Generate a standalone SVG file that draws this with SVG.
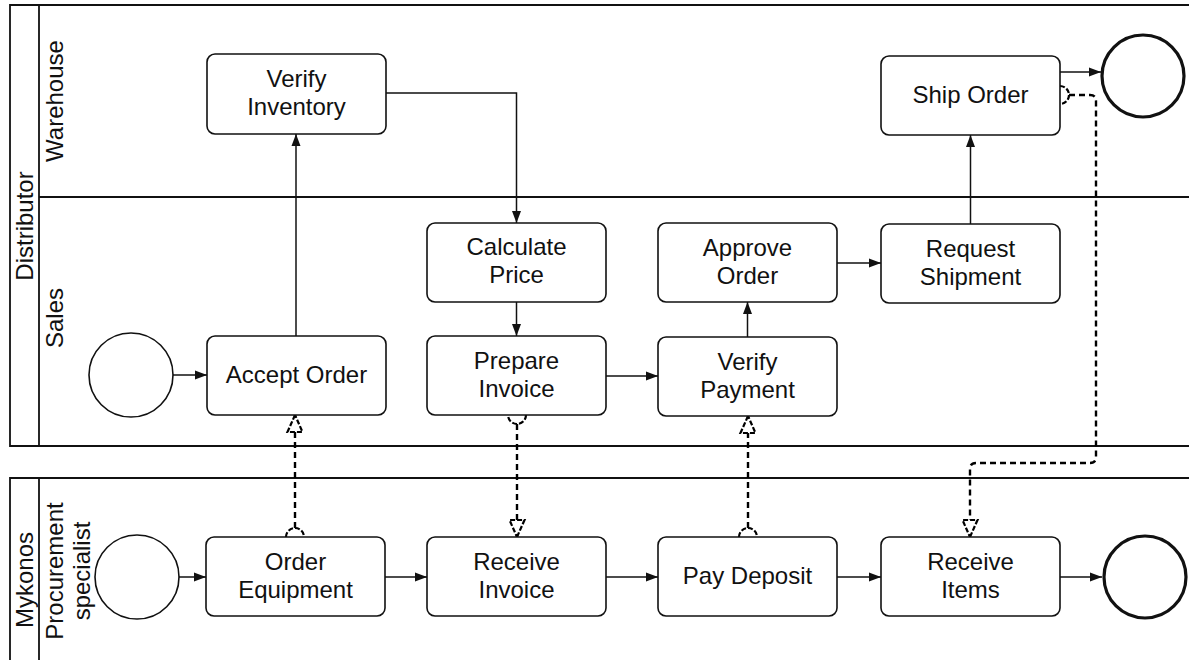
<svg xmlns="http://www.w3.org/2000/svg" width="1189" height="660" viewBox="0 0 1189 660">
<style>
  text { font-family: "Liberation Sans", Arial, Helvetica, sans-serif; font-size: 24px; fill: #111; }
  .lbl { text-anchor: middle; }
  .pool { fill: none; stroke: #111; stroke-width: 1.8; }
  .task rect { fill: #fff; stroke: #111; stroke-width: 1.6; }
  .start { fill: #fff; stroke: #111; stroke-width: 1.6; }
  .end { fill: #fff; stroke: #111; stroke-width: 3.2; }
  .seq { fill: none; stroke: #111; stroke-width: 1.5; marker-end: url(#arr); }
  .msg { fill: none; stroke: #000; stroke-width: 2.4; stroke-dasharray: 6 4; marker-start: url(#msgStart); marker-end: url(#msgEnd); }
</style>
<defs>
  <marker id="arr" markerUnits="userSpaceOnUse" markerWidth="14" markerHeight="10" viewBox="-13 -5 14 10" refX="0" refY="0" orient="auto">
    <path d="M0,0 L-12,-4.5 L-12,4.5 Z" fill="#111"/>
  </marker>
  <marker id="msgEnd" markerUnits="userSpaceOnUse" markerWidth="22" markerHeight="22" viewBox="-20 -11 22 22" refX="0" refY="0" orient="auto" overflow="visible">
    <path d="M0,0 L-17,-7.5 L-17,7.5 Z" fill="#fff" stroke="#000" stroke-width="2.2" stroke-dasharray="5 2"/>
  </marker>
  <marker id="msgStart" markerUnits="userSpaceOnUse" markerWidth="22" markerHeight="22" viewBox="-11 -11 22 22" refX="0" refY="0" orient="auto" overflow="visible">
    <path d="M-9,-9 A9,9 0 0 1 -9,9" fill="none" stroke="#000" stroke-width="2.2" stroke-dasharray="5 2"/>
  </marker>
</defs>

<g id="pools">
  <path class="pool" d="M1189,5 H10 V446 H1189"/>
  <line class="pool" x1="39" y1="5" x2="39" y2="446"/>
  <line class="pool" x1="39" y1="197" x2="1189" y2="197"/>
  <path class="pool" d="M1189,478 H10 V660"/>
  <line class="pool" x1="39" y1="478" x2="39" y2="660"/>
  <text class="lbl" transform="translate(33,226) rotate(-90)">Distributor</text>
  <text class="lbl" transform="translate(63,101) rotate(-90)">Warehouse</text>
  <text class="lbl" transform="translate(63,318) rotate(-90)">Sales</text>
  <text class="lbl" transform="translate(33,580) rotate(-90)">Mykonos</text>
  <text class="lbl" transform="translate(63,571) rotate(-90)">Procurement</text>
  <text class="lbl" transform="translate(90,571) rotate(-90)">specialist</text>
</g>

<g id="connectors">
  <path class="seq" d="M173,375 H207"/>
  <path class="seq" d="M296,336 V134"/>
  <path class="seq" d="M386,93 H516.5 V223"/>
  <path class="seq" d="M516.5,302 V336"/>
  <path class="seq" d="M606,376 H658"/>
  <path class="seq" d="M747.5,337 V302"/>
  <path class="seq" d="M837,263 H881"/>
  <path class="seq" d="M970.5,224 V135"/>
  <path class="seq" d="M1060,72 H1101"/>
  <path class="seq" d="M179,577 H206"/>
  <path class="seq" d="M385,577 H427"/>
  <path class="seq" d="M606,577 H658"/>
  <path class="seq" d="M837,577 H881"/>
  <path class="seq" d="M1060,577 H1102"/>
  <path class="msg" d="M295,528 V415"/>
  <path class="msg" d="M517,424 V537"/>
  <path class="msg" d="M748,528 V416"/>
  <path class="msg" d="M1069,95 H1090 Q1096,95 1096,101 V457 Q1096,463 1090,463 H976 Q970,463 970,469 V537"/>
</g>

<g id="start-sales"><circle class="start" cx="131" cy="375" r="42"/></g>
<g id="start-mykonos"><circle class="start" cx="137" cy="577" r="42"/></g>
<g id="end-warehouse"><circle class="end" cx="1143" cy="76" r="41"/></g>
<g id="end-mykonos"><circle class="end" cx="1145" cy="577" r="41"/></g>

<g id="verify-inventory" class="task"><rect x="207" y="54" width="179" height="80" rx="8"/><text class="lbl" x="296.5" y="87">Verify</text><text class="lbl" x="296.5" y="115">Inventory</text></g>
<g id="ship-order" class="task"><rect x="881" y="56" width="179" height="79" rx="8"/><text class="lbl" x="970.5" y="103">Ship Order</text></g>
<g id="calculate-price" class="task"><rect x="427" y="223" width="179" height="79" rx="8"/><text class="lbl" x="516.5" y="255">Calculate</text><text class="lbl" x="516.5" y="283">Price</text></g>
<g id="approve-order" class="task"><rect x="658" y="223" width="179" height="79" rx="8"/><text class="lbl" x="747.5" y="256">Approve</text><text class="lbl" x="747.5" y="284">Order</text></g>
<g id="request-shipment" class="task"><rect x="881" y="224" width="179" height="79" rx="8"/><text class="lbl" x="970.5" y="257">Request</text><text class="lbl" x="970.5" y="285">Shipment</text></g>
<g id="accept-order" class="task"><rect x="207" y="336" width="179" height="79" rx="8"/><text class="lbl" x="296.5" y="383">Accept Order</text></g>
<g id="prepare-invoice" class="task"><rect x="427" y="336" width="179" height="79" rx="8"/><text class="lbl" x="516.5" y="369">Prepare</text><text class="lbl" x="516.5" y="397">Invoice</text></g>
<g id="verify-payment" class="task"><rect x="658" y="337" width="179" height="79" rx="8"/><text class="lbl" x="747.5" y="370">Verify</text><text class="lbl" x="747.5" y="398">Payment</text></g>
<g id="order-equipment" class="task"><rect x="206" y="537" width="179" height="79" rx="8"/><text class="lbl" x="295.5" y="570">Order</text><text class="lbl" x="295.5" y="598">Equipment</text></g>
<g id="receive-invoice" class="task"><rect x="427" y="537" width="179" height="79" rx="8"/><text class="lbl" x="516.5" y="570">Receive</text><text class="lbl" x="516.5" y="598">Invoice</text></g>
<g id="pay-deposit" class="task"><rect x="658" y="537" width="179" height="79" rx="8"/><text class="lbl" x="747.5" y="584">Pay Deposit</text></g>
<g id="receive-items" class="task"><rect x="881" y="537" width="179" height="79" rx="8"/><text class="lbl" x="970.5" y="570">Receive</text><text class="lbl" x="970.5" y="598">Items</text></g>
</svg>
